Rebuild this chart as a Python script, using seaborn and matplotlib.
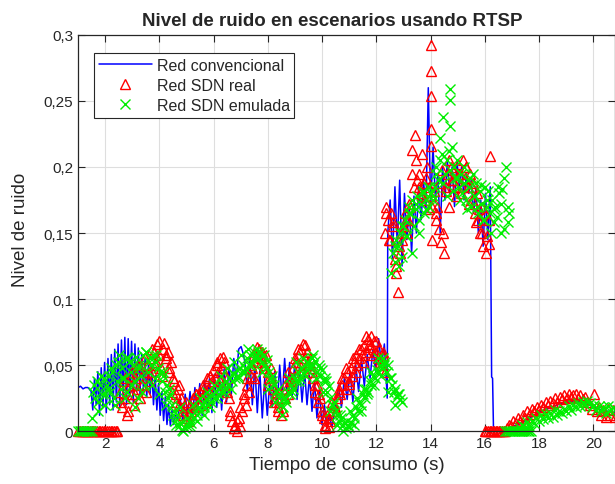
import numpy as np
import pandas as pd
import matplotlib
matplotlib.use('Agg')
import matplotlib.pyplot as plt
import seaborn as sns

# Red convencional (blue line)
conv_spans = [(1.00, 1.45), (1.48, 4.65), (4.68, 7.10), (7.15, 10.45),
              (10.50, 12.40), (12.42, 16.20), (16.25, 16.32), (16.35, 20.80)]
conv_a = [0.033, 0.034, 0.032, 0.033, 0.033, 0.031]
conv_b = [0.030, 0.016, 0.040, 0.020, 0.045, 0.012, 0.048, 0.018, 0.052, 0.014,
          0.055, 0.020, 0.058, 0.016, 0.062, 0.022, 0.066, 0.018, 0.069, 0.024,
          0.071, 0.020, 0.070, 0.026, 0.068, 0.022, 0.066, 0.030, 0.063, 0.028,
          0.058, 0.032, 0.055, 0.026, 0.050, 0.028, 0.046, 0.020, 0.042, 0.016,
          0.036, 0.012, 0.030, 0.008, 0.026, 0.005, 0.020, 0.004, 0.016, 0.005,
          0.012, 0.008]
conv_c = [0.010, 0.024, 0.008, 0.028, 0.012, 0.030, 0.010, 0.033, 0.014, 0.036,
          0.012, 0.038, 0.016, 0.040, 0.014, 0.043, 0.018, 0.045, 0.016, 0.047,
          0.022, 0.050, 0.028, 0.055, 0.038, 0.062, 0.064, 0.058]
conv_d = [0.052, 0.030, 0.056, 0.020, 0.050, 0.014, 0.046, 0.010, 0.040, 0.012,
          0.036, 0.018, 0.045, 0.020, 0.050, 0.024, 0.055, 0.028, 0.052, 0.026,
          0.050, 0.024, 0.048, 0.022, 0.046, 0.020, 0.042, 0.015, 0.038, 0.010,
          0.030, 0.005, 0.020, 0.002, 0.012, 0.003, 0.015]
conv_e = [0.020, 0.035, 0.018, 0.040, 0.024, 0.045, 0.022, 0.050, 0.030, 0.055,
          0.034, 0.058, 0.040, 0.062, 0.045, 0.070, 0.050, 0.066, 0.025]
conv_f = [0.150, 0.175, 0.130, 0.185, 0.140, 0.190, 0.125, 0.180, 0.145, 0.170,
          0.135, 0.178, 0.150, 0.185, 0.160, 0.190, 0.165, 0.260, 0.170, 0.215,
          0.175, 0.195, 0.150, 0.200, 0.175, 0.205, 0.180, 0.200, 0.170, 0.205,
          0.185, 0.200, 0.175, 0.195, 0.180, 0.190, 0.165, 0.185, 0.150, 0.175,
          0.140, 0.180, 0.145, 0.185]
conv_g = [0.041, 0.040, 0.000]
conv_h = [0.000, 0.000, 0.002, 0.004, 0.006, 0.009, 0.012, 0.015, 0.017, 0.019,
          0.021, 0.022, 0.023, 0.022, 0.020, 0.018, 0.016, 0.015, 0.014]
conv_parts = [conv_a, conv_b, conv_c, conv_d, conv_e, conv_f, conv_g, conv_h]

# Red SDN real (red triangles)
real_spans = [(1.00, 2.45), (2.55, 12.30), (2.60, 12.25), (12.30, 16.20),
              (12.35, 16.15), (14.00, 14.00), (16.00, 16.75), (16.80, 20.80)]
real_a = [0.0] * 24
real_b = [0.030, 0.018, 0.038, 0.025, 0.012, 0.035, 0.042, 0.028,
          0.020, 0.040, 0.032, 0.048, 0.025, 0.036, 0.045, 0.030,
          0.050, 0.038, 0.055, 0.045, 0.060, 0.052, 0.066, 0.058,
          0.048, 0.062, 0.067, 0.055, 0.060, 0.045, 0.052, 0.040,
          0.038, 0.028, 0.032, 0.020, 0.025, 0.015, 0.018, 0.010,
          0.012, 0.020, 0.015, 0.025, 0.018, 0.028, 0.022, 0.030,
          0.025, 0.035, 0.030, 0.040, 0.032, 0.042, 0.038, 0.046,
          0.040, 0.050, 0.045, 0.055, 0.048, 0.052, 0.035, 0.040,
          0.025, 0.015, 0.008, 0.002, 0.005, 0.000, 0.010, 0.004,
          0.015, 0.025, 0.020, 0.035, 0.030, 0.042, 0.048, 0.040,
          0.052, 0.058, 0.062, 0.055, 0.060, 0.050, 0.058, 0.045,
          0.040, 0.048, 0.032, 0.025, 0.030, 0.018, 0.022, 0.012,
          0.015, 0.025, 0.032, 0.028, 0.040, 0.035, 0.048, 0.042,
          0.052, 0.058, 0.050, 0.062, 0.066, 0.055, 0.060, 0.050,
          0.055, 0.045, 0.040, 0.030, 0.035, 0.022, 0.025, 0.015,
          0.010, 0.005, 0.012, 0.003, 0.008, 0.015, 0.020, 0.018,
          0.025, 0.030, 0.028, 0.035, 0.040, 0.032, 0.045, 0.038,
          0.048, 0.042, 0.052, 0.058, 0.050, 0.055, 0.062, 0.058,
          0.065, 0.060, 0.070, 0.066, 0.072, 0.062, 0.068, 0.060,
          0.055, 0.062, 0.050, 0.058, 0.045]
real_b2 = [0.022, 0.040, 0.015, 0.045, 0.028, 0.050, 0.035, 0.055,
           0.045, 0.062, 0.050, 0.068, 0.042, 0.058, 0.048, 0.030,
           0.022, 0.035, 0.012, 0.022, 0.008, 0.018, 0.028, 0.020,
           0.032, 0.022, 0.042, 0.030, 0.052, 0.038, 0.056, 0.030,
           0.012, 0.002, 0.008, 0.018, 0.028, 0.040, 0.050, 0.058,
           0.064, 0.052, 0.048, 0.035, 0.040, 0.022, 0.015, 0.025,
           0.035, 0.045, 0.038, 0.055, 0.062, 0.045, 0.065, 0.052,
           0.048, 0.035, 0.028, 0.012, 0.002, 0.010, 0.022, 0.015,
           0.032, 0.040, 0.048, 0.036, 0.055, 0.045, 0.062, 0.052,
           0.072, 0.064, 0.058, 0.068, 0.052, 0.060]
real_c = [0.150, 0.170, 0.160, 0.145, 0.165, 0.155, 0.130, 0.120,
          0.105, 0.135, 0.145, 0.155, 0.165, 0.150, 0.160, 0.170,
          0.213, 0.185, 0.224, 0.190, 0.195, 0.180, 0.210, 0.188,
          0.175, 0.200, 0.185, 0.178, 0.170, 0.182, 0.165, 0.170,
          0.153, 0.143, 0.150, 0.135, 0.185, 0.195, 0.170, 0.200,
          0.190, 0.198, 0.185, 0.202, 0.195, 0.180, 0.205, 0.192,
          0.200, 0.185, 0.195, 0.175, 0.188, 0.165, 0.180, 0.160,
          0.150, 0.170, 0.140, 0.165, 0.148, 0.142, 0.208]
real_c2 = [0.165, 0.145, 0.158, 0.125, 0.140, 0.150, 0.160, 0.172,
           0.195, 0.205, 0.185, 0.178, 0.192, 0.168, 0.145, 0.160,
           0.188, 0.198, 0.182, 0.205, 0.190, 0.178, 0.195, 0.185,
           0.200, 0.172, 0.185, 0.158, 0.168, 0.150, 0.135, 0.160]
real_d = [0.216, 0.229, 0.254, 0.273, 0.292]
real_e = [0.0] * 14
real_f = [0.002, 0.005, 0.004, 0.008, 0.006, 0.010,
          0.008, 0.012, 0.010, 0.015, 0.013, 0.017,
          0.015, 0.018, 0.016, 0.020, 0.018, 0.022,
          0.020, 0.023, 0.021, 0.025, 0.022, 0.026,
          0.024, 0.027, 0.025, 0.028, 0.026, 0.027,
          0.028, 0.025, 0.027, 0.024, 0.026, 0.022,
          0.020, 0.017, 0.028, 0.015, 0.018, 0.012,
          0.016, 0.011, 0.017, 0.012, 0.016, 0.011]
real_parts = [real_a, real_b, real_b2, real_c, real_c2, real_d, real_e, real_f]

# Red SDN emulada (green crosses)
emu_spans = [(1.00, 1.50), (1.50, 12.95), (1.60, 12.80), (12.55, 16.90),
             (12.70, 16.85), (14.72, 14.72), (16.75, 17.70), (17.30, 20.80)]
emu_a = [0.0] * 10
emu_b = [0.010, 0.030, 0.025, 0.038, 0.022, 0.035, 0.028, 0.040,
         0.020, 0.035, 0.042, 0.030, 0.045, 0.025, 0.050, 0.038,
         0.058, 0.032, 0.048, 0.040, 0.055, 0.030, 0.052, 0.045,
         0.050, 0.038, 0.056, 0.025, 0.048, 0.042, 0.058, 0.035,
         0.060, 0.045, 0.055, 0.050, 0.058, 0.040, 0.052, 0.048,
         0.045, 0.038, 0.042, 0.030, 0.035, 0.025, 0.028, 0.020,
         0.015, 0.008, 0.012, 0.004, 0.006, 0.001, 0.003, 0.002,
         0.004, 0.008, 0.006, 0.012, 0.010, 0.015, 0.012, 0.018,
         0.015, 0.020, 0.018, 0.024, 0.020, 0.026, 0.022, 0.028,
         0.025, 0.030, 0.028, 0.034, 0.030, 0.036, 0.033, 0.038,
         0.035, 0.040, 0.038, 0.044, 0.040, 0.046, 0.042, 0.048,
         0.045, 0.050, 0.048, 0.055, 0.050, 0.058, 0.052, 0.060,
         0.056, 0.062, 0.055, 0.060, 0.052, 0.058, 0.048, 0.054,
         0.045, 0.040, 0.042, 0.035, 0.030, 0.032, 0.025, 0.020,
         0.018, 0.025, 0.022, 0.030, 0.028, 0.035, 0.032, 0.040,
         0.038, 0.045, 0.040, 0.048, 0.044, 0.050, 0.046, 0.052,
         0.048, 0.055, 0.050, 0.053, 0.045, 0.050, 0.042, 0.046,
         0.038, 0.040, 0.030, 0.034, 0.025, 0.020, 0.022, 0.015,
         0.012, 0.008, 0.010, 0.004, 0.006, 0.002, 0.005, 0.003,
         0.006, 0.012, 0.010, 0.018, 0.015, 0.022, 0.020, 0.028,
         0.025, 0.032, 0.030, 0.038, 0.035, 0.042, 0.040, 0.046,
         0.044, 0.050, 0.048, 0.055, 0.052, 0.045, 0.050, 0.040,
         0.035, 0.030, 0.032, 0.026, 0.028, 0.024, 0.022]
emu_b2 = [0.035, 0.015, 0.042, 0.028, 0.032, 0.048, 0.020, 0.052,
          0.040, 0.025, 0.055, 0.035, 0.018, 0.050, 0.030, 0.060,
          0.052, 0.035, 0.058, 0.028, 0.045, 0.020, 0.032, 0.012,
          0.005, 0.018, 0.000, 0.010, 0.004, 0.020, 0.008, 0.025,
          0.012, 0.030, 0.018, 0.035, 0.025, 0.042, 0.030, 0.048,
          0.032, 0.052, 0.040, 0.058, 0.045, 0.062, 0.050, 0.055,
          0.060, 0.045, 0.050, 0.032, 0.038, 0.022, 0.028, 0.012,
          0.025, 0.040, 0.030, 0.052, 0.038, 0.055, 0.042, 0.050,
          0.058, 0.040, 0.048, 0.030, 0.038, 0.015, 0.020, 0.005,
          0.012, 0.000, 0.008, 0.015, 0.005, 0.025, 0.015, 0.032,
          0.028, 0.045, 0.035, 0.055, 0.042, 0.050, 0.030, 0.040,
          0.020, 0.028]
emu_c = [0.120, 0.135, 0.128, 0.145, 0.140, 0.150, 0.132, 0.155,
         0.160, 0.148, 0.170, 0.165, 0.175, 0.155, 0.168, 0.178,
         0.150, 0.172, 0.182, 0.165, 0.175, 0.185, 0.170, 0.180,
         0.178, 0.185, 0.200, 0.190, 0.222, 0.210, 0.238, 0.195,
         0.205, 0.212, 0.231, 0.215, 0.200, 0.192, 0.205, 0.185,
         0.195, 0.180, 0.200, 0.175, 0.190, 0.185, 0.170, 0.195,
         0.178, 0.188, 0.165, 0.182, 0.172, 0.160, 0.185, 0.170,
         0.182, 0.165, 0.175, 0.158, 0.170, 0.162, 0.180, 0.150,
         0.183, 0.153, 0.200, 0.170, 0.165]
emu_c2 = [0.140, 0.125, 0.155, 0.148, 0.165, 0.135, 0.172, 0.160,
          0.180, 0.168, 0.185, 0.175, 0.195, 0.205, 0.188, 0.178,
          0.198, 0.182, 0.192, 0.175, 0.188, 0.168, 0.192, 0.178,
          0.170, 0.186, 0.160, 0.175, 0.150, 0.168, 0.185, 0.172,
          0.192, 0.158]
emu_d = [0.251, 0.259]
emu_e = [0.0] * 16
emu_f = [0.002, 0.005, 0.003, 0.007, 0.004, 0.008,
         0.006, 0.010, 0.008, 0.012, 0.009, 0.013,
         0.010, 0.014, 0.011, 0.016, 0.012, 0.015,
         0.014, 0.017, 0.015, 0.019, 0.016, 0.020,
         0.018, 0.021, 0.019, 0.022, 0.020, 0.023,
         0.021, 0.018, 0.020, 0.016, 0.019, 0.015,
         0.018, 0.014, 0.019, 0.015, 0.018, 0.016]
emu_parts = [emu_a, emu_b, emu_b2, emu_c, emu_c2, emu_d, emu_e, emu_f]

y_ticks = [0, 0.05, 0.1, 0.15, 0.2, 0.25, 0.3]
y_tick_labels = ['0', '0,05', '0,1', '0,15', '0,2', '0,25', '0,3']
x_ticks = [2, 4, 6, 8, 10, 12, 14, 16, 18, 20]


def build(spans, parts):
    # each piece is sampled evenly over its time span
    t = np.concatenate([np.linspace(a, b, len(v)) for (a, b), v in zip(spans, parts)])
    y = np.concatenate([np.asarray(v, dtype=float) for v in parts])
    return pd.DataFrame({'t': t, 'y': y})


conv = build(conv_spans, conv_parts)
real = build(real_spans, real_parts)
emu = build(emu_spans, emu_parts)

# --- style ---
sns.set_theme(style='whitegrid')
plt.rcParams['font.family'] = ['Liberation Sans', 'DejaVu Sans']
plt.rcParams['axes.edgecolor'] = '#262626'
plt.rcParams['grid.color'] = '#dedede'
plt.rcParams['grid.linewidth'] = 0.8

fig = plt.figure(figsize=(6.15, 4.85), dpi=100)
ax = fig.add_axes([0.127, 0.109, 0.873, 0.817])

sns.lineplot(data=conv, x='t', y='y', ax=ax, color='#0000ff', linewidth=1.1,
             sort=False, estimator=None, label='Red convencional')
sns.lineplot(data=real, x='t', y='y', ax=ax, color='#ff0000', linestyle='',
             marker='^', markersize=7.5, fillstyle='none', markeredgecolor='#ff0000',
             markeredgewidth=1.0, sort=False, estimator=None, label='Red SDN real',
             clip_on=False)
sns.lineplot(data=emu, x='t', y='y', ax=ax, color='#00ff00', linestyle='',
             marker='x', markersize=6.5, markeredgecolor='#00ee00',
             markeredgewidth=1.0, sort=False, estimator=None, label='Red SDN emulada',
             clip_on=False)

ax.set_xlim(1.0, 20.8)
ax.set_ylim(0, 0.3)
ax.set_xticks(x_ticks)
ax.set_yticks(y_ticks)
ax.set_yticklabels(y_tick_labels)
ax.tick_params(direction='in', length=5, width=0.8, colors='#262626', labelsize=11,
               bottom=True, left=True, top=True, right=True, labelcolor='#262626')
for s in ax.spines.values():
    s.set_linewidth(0.9)

ax.set_xlabel('Tiempo de consumo (s)', fontsize=13.5, color='#262626')
ax.set_ylabel('Nivel de ruido', fontsize=13.5, color='#262626')
ax.yaxis.set_label_coords(-0.091, 0.51)
ax.set_title('Nivel de ruido en escenarios usando RTSP', fontsize=13.5,
             fontweight='bold', x=0.473, pad=7)

leg = ax.legend(loc='upper left', bbox_to_anchor=(0.03, 0.955), fontsize=11.5,
                handlelength=3.3, frameon=True, fancybox=False, framealpha=1,
                edgecolor='#262626', borderpad=0.3, labelspacing=0.32,
                handletextpad=0.3, borderaxespad=0)
leg.get_frame().set_linewidth(0.8)

fig.savefig('out.png', dpi=100)
